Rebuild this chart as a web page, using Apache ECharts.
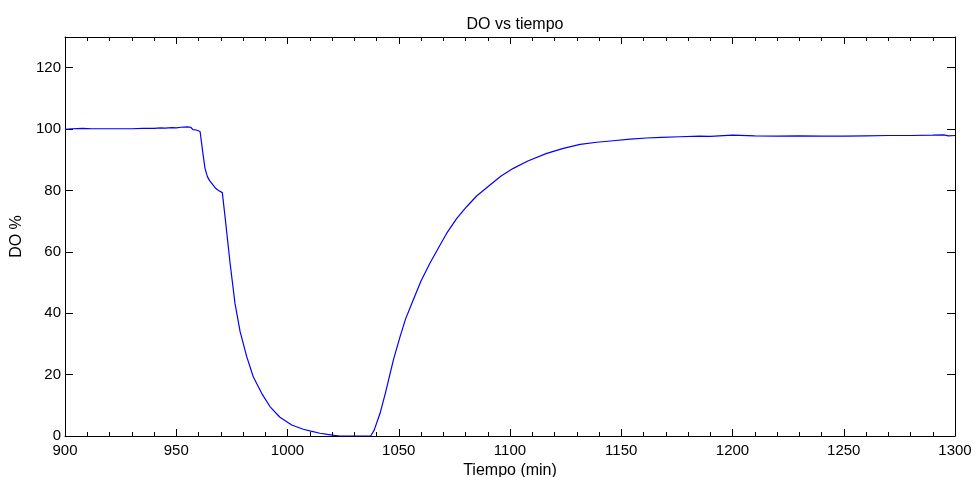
<!DOCTYPE html>
<html>
<head>
<meta charset="utf-8">
<script src="https://cdn.jsdelivr.net/npm/echarts@6/dist/echarts.min.js"></script>
<style>
html,body{margin:0;padding:0;background:#fff;overflow:hidden;}
#chart{width:975px;height:477px;}
</style>
</head>
<body>
<div id="chart"></div>
<script>
// Hand-read samples of the DO curve
const tiempo = [900, 903, 908, 912, 916, 920, 925, 930, 935, 940, 943, 945, 948, 950, 952, 955, 956.5, 957.5, 959, 960.7,
  962, 962.9, 964, 965, 966.5, 967.7, 969, 970.7, 972, 974.2, 976.4, 978.7, 981.7, 984.6, 988.4, 992.1, 996.6,
  1001.9, 1007.1, 1010.5, 1014.6, 1018, 1021, 1023.6, 1030, 1037.4, 1039, 1041.6, 1044, 1047.6, 1050.6, 1053,
  1056.5, 1060, 1064, 1068, 1071.5, 1076, 1080.5, 1085, 1091, 1096, 1101.5, 1108, 1116.5, 1124, 1131.5, 1139,
  1146.4, 1154, 1161.4, 1168, 1176.4, 1185, 1190, 1200, 1210, 1220, 1230, 1240, 1250, 1260, 1270, 1280, 1290,
  1295, 1297, 1300];
const doPct = [99.9, 100.1, 100.2, 100.1, 100.1, 100.1, 100.1, 100.1, 100.2, 100.2, 100.4, 100.3, 100.5, 100.4, 100.6, 100.7, 100.6, 99.8, 99.7, 99.2,
  92.0, 87.3, 84.5, 83.2, 81.8, 80.7, 80.0, 79.3, 71.0, 56.3, 43.2, 34.0, 25.8, 19.3, 13.9, 9.6, 6.1,
  3.6, 2.2, 1.6, 0.9, 0.5, 0.2, 0.0, 0.0, 0.0, 2.0, 7.4, 14.0, 24.8, 32.4, 38.0,
  44.3, 50.5, 56.3, 61.5, 66.0, 70.8, 74.7, 78.2, 81.8, 84.7, 87.2, 89.6, 92.1, 93.7, 95.0, 95.7,
  96.2, 96.7, 97.1, 97.3, 97.5, 97.7, 97.6, 98.0, 97.8, 97.7, 97.8, 97.7, 97.7, 97.8, 97.9, 97.9, 98.0,
  98.1, 97.8, 97.9];
const xTicks = {min: 900, max: 1300, interval: 50};
const yTicks = {min: 0, max: 130, interval: 20};

const seriesData = tiempo.map((t, i) => [t, doPct[i]]);
const font = 'Liberation Sans, Arial, sans-serif';
const chart = echarts.init(document.getElementById('chart'));
const lineStyle = {color: '#000', width: 1};
const plain = v => String(v);
chart.setOption({
  animation: false,
  backgroundColor: '#fff',
  title: {
    text: 'DO vs tiempo', left: 510, top: 12, textAlign: 'center',
    textStyle: {fontFamily: font, fontSize: 16, fontWeight: 'normal', color: '#000'}
  },
  grid: {left: 65, right: 20, top: 37, bottom: 41, containLabel: false, outerBoundsMode: 'none'},
  xAxis: [{
    type: 'value', position: 'bottom', min: xTicks.min, max: xTicks.max, interval: xTicks.interval,
    name: 'Tiempo (min)', nameLocation: 'middle', nameGap: 23,
    nameTextStyle: {fontFamily: font, fontSize: 16, color: '#000'},
    axisLine: {show: true, onZero: false, lineStyle: lineStyle},
    axisTick: {show: true, inside: true, length: 7, lineStyle: lineStyle},
    minorTick: {show: true, splitNumber: 5, length: 4, lineStyle: lineStyle},
    axisLabel: {fontFamily: font, fontSize: 15, color: '#000', margin: 7, formatter: plain},
    splitLine: {show: false}
  }, {
    type: 'value', position: 'top', min: xTicks.min, max: xTicks.max, interval: xTicks.interval,
    axisLine: {show: true, onZero: false, lineStyle: lineStyle},
    axisTick: {show: true, inside: true, length: 7, lineStyle: lineStyle},
    minorTick: {show: true, splitNumber: 5, length: 4, lineStyle: lineStyle},
    axisLabel: {show: false},
    splitLine: {show: false}
  }],
  yAxis: [{
    type: 'value', position: 'left', min: yTicks.min, max: yTicks.max, interval: yTicks.interval,
    name: 'DO %', nameLocation: 'middle', nameGap: 35,
    nameTextStyle: {fontFamily: font, fontSize: 16, color: '#000'},
    axisLine: {show: true, onZero: false, lineStyle: lineStyle},
    axisTick: {show: true, inside: true, length: 8, lineStyle: lineStyle},
    axisLabel: {fontFamily: font, fontSize: 15, color: '#000', margin: 4, showMaxLabel: false, formatter: plain},
    splitLine: {show: false}
  }, {
    type: 'value', position: 'right', min: yTicks.min, max: yTicks.max, interval: yTicks.interval,
    axisLine: {show: true, onZero: false, lineStyle: lineStyle},
    axisTick: {show: true, inside: true, length: 8, lineStyle: lineStyle},
    axisLabel: {show: false},
    splitLine: {show: false}
  }],
  series: [{
    type: 'line', xAxisIndex: 0, yAxisIndex: 0, data: seriesData,
    showSymbol: false, symbol: 'none', smooth: false,
    lineStyle: {color: '#0000ff', width: 1.2}
  }]
});
</script>
</body>
</html>
